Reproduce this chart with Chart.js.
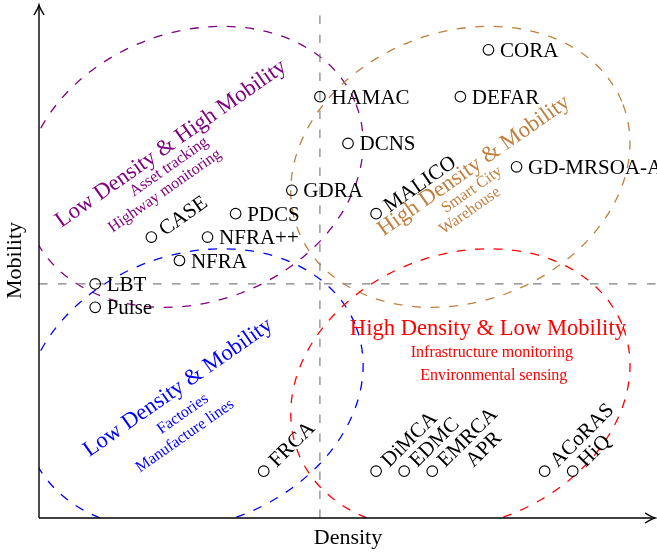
<!DOCTYPE html>
<html><head><meta charset="utf-8">
<script src="https://cdn.jsdelivr.net/npm/chart.js@4.4.0/dist/chart.umd.min.js"></script>
<style>html,body{margin:0;padding:0;background:#fff;overflow:hidden}canvas{display:block}</style>
</head><body>
<canvas id="c" width="657" height="552"></canvas>
<script>
// ---------------- data ----------------
const names    = ['CORA','HAMAC','DEFAR','DCNS','GD-MRSOA-A','GDRA','MALICO','PDCS','CASE','NFRA++','NFRA','LBT','Pulse','FRCA','DiMCA','EDMC','EMRCA','APR','ACoRAS','HiQ'];
const density  = [16, 10, 15, 11, 17,  9, 12,  7,  4,  6,  5,  2,  2,  8, 12, 13, 14, 15, 18, 19];
const mobility = [20, 18, 18, 16, 15, 14, 13, 13, 12, 12, 11, 10,  9,  2,  2,  2,  2,  2,  2,  2];
const densityDivider = 10;
const mobilityDivider = 10;
const regionTitles = ['Low Density & High Mobility', 'High Density & Mobility', 'Low Density & Mobility', 'High Density & Low Mobility'];
const regionUses = [['Asset tracking', 'Highway monitoring'], ['Smart City', 'Warehouse'], ['Factories', 'Manufacture lines'], ['Infrastructure monitoring', 'Environmental sensing']];
const regionDensity  = [5.5, 15, 5.5, 15];
const regionMobility = [15, 15, 5.5, 5.5];

// ---------------- styles / layout ----------------
const SERIF = '"Liberation Serif", "Times New Roman", serif';
const regionColors = ['#800080', '#BF8040', '#0000FF', '#FF0000'];
const labelAngle = {CASE: 35, MALICO: 35, FRCA: 45, DiMCA: 45, EDMC: 45, EMRCA: 45, APR: 45, ACoRAS: 45, HiQ: 45};
const noMarker = new Set(['APR']);
const ellipseStyle = {a: 6.2, b: 4.8, rot: 21};   // radii in x-units, rotation deg
const regionText = [
  {angle: 35, pos: [[4.70, 15.98], [4.63, 15.0], [4.48, 13.97]]},
  {angle: 35, pos: [[15.48, 15.04], [15.41, 14.02], [15.34, 13.12]]},
  {angle: 35, pos: [[4.95, 5.56], [5.12, 4.44], [5.20, 3.50]]},
  {angle: 0,  pos: [[15.98, 8.08], [16.12, 7.05], [16.19, 6.07]]}
];

function arrowHead(ctx, x, y, ang) {
  ctx.save();
  ctx.translate(x, y);
  ctx.rotate(ang);
  ctx.beginPath();
  ctx.moveTo(-10, -5);
  ctx.quadraticCurveTo(-3, -0.8, 0, 0);
  ctx.quadraticCurveTo(-3, 0.8, -10, 5);
  ctx.lineWidth = 1.4;
  ctx.strokeStyle = '#000';
  ctx.stroke();
  ctx.restore();
}

const backPlugin = {
  id: 'back',
  beforeDatasetsDraw(chart) {
    const {ctx, chartArea: ca, scales: {x, y}} = chart;
    const ux = Math.abs(x.getPixelForValue(1) - x.getPixelForValue(0));
    // ellipses
    ctx.save();
    ctx.beginPath();
    ctx.rect(ca.left, ca.top, ca.right - ca.left, ca.bottom - ca.top);
    ctx.clip();
    regionTitles.forEach((t, i) => {
      ctx.beginPath();
      ctx.ellipse(x.getPixelForValue(regionDensity[i]), y.getPixelForValue(regionMobility[i]),
        ellipseStyle.a * ux, ellipseStyle.b * ux, -ellipseStyle.rot * Math.PI / 180, 0, Math.PI * 2);
      ctx.setLineDash([9, 9.5]);
      ctx.lineWidth = 1.3;
      ctx.strokeStyle = regionColors[i];
      ctx.stroke();
    });
    // dividers
    ctx.strokeStyle = '#808080';
    ctx.lineWidth = 1.2;
    ctx.setLineDash([8.5, 10.5]);
    ctx.beginPath();
    ctx.moveTo(x.getPixelForValue(densityDivider), y.getPixelForValue(0));
    ctx.lineTo(x.getPixelForValue(densityDivider), y.getPixelForValue(21.5));
    ctx.stroke();
    ctx.beginPath();
    ctx.moveTo(x.getPixelForValue(0), y.getPixelForValue(mobilityDivider));
    ctx.lineTo(x.getPixelForValue(22), y.getPixelForValue(mobilityDivider));
    ctx.stroke();
    ctx.restore();

    // region texts
    ctx.save();
    regionTitles.forEach((t, i) => {
      const rt = regionText[i];
      const lines = [t].concat(regionUses[i]);
      lines.forEach((s, k) => {
        ctx.save();
        ctx.translate(x.getPixelForValue(rt.pos[k][0]), y.getPixelForValue(rt.pos[k][1]));
        ctx.rotate(-rt.angle * Math.PI / 180);
        ctx.fillStyle = regionColors[i];
        ctx.font = (k === 0 ? 22.6 : 16) + 'px ' + SERIF;
        ctx.textAlign = 'center';
        ctx.textBaseline = 'middle';
        ctx.fillText(s, 0, 0);
        ctx.restore();
      });
    });
    ctx.restore();

    // axes
    ctx.save();
    ctx.strokeStyle = '#000';
    ctx.lineWidth = 1.4;
    ctx.beginPath();
    ctx.moveTo(ca.left, ca.bottom);
    ctx.lineTo(ca.right - 2, ca.bottom);
    ctx.moveTo(ca.left, ca.bottom);
    ctx.lineTo(ca.left, ca.top + 2);
    ctx.stroke();
    arrowHead(ctx, ca.right - 2, ca.bottom, 0);
    arrowHead(ctx, ca.left, ca.top + 2, -Math.PI / 2);
    ctx.restore();
  },
  afterDatasetsDraw(chart) {
    const {ctx} = chart;
    const meta = chart.getDatasetMeta(0);
    ctx.save();
    ctx.fillStyle = '#000';
    ctx.font = '21px ' + SERIF;
    ctx.textAlign = 'left';
    ctx.textBaseline = 'alphabetic';
    meta.data.forEach((pt, i) => {
      const ang = labelAngle[names[i]] || 0;
      ctx.save();
      ctx.translate(pt.x, pt.y);
      ctx.rotate(-ang * Math.PI / 180);
      ctx.fillText(names[i], 11.5, 7);
      ctx.restore();
    });
    ctx.restore();
  }
};

function build() {
  new Chart(document.getElementById('c'), {
    type: 'scatter',
    data: {
      datasets: [{
        data: names.map((n, i) => ({x: density[i], y: mobility[i]})),
        pointRadius: c => noMarker.has(names[c.dataIndex]) ? 0 : 5.3,
        pointHoverRadius: c => noMarker.has(names[c.dataIndex]) ? 0 : 5.3,
        pointBorderColor: '#000',
        pointBackgroundColor: 'rgba(0,0,0,0)',
        pointBorderWidth: 1.1,
        clip: false
      }]
    },
    options: {
      responsive: false,
      animation: false,
      events: [],
      layout: {autoPadding: false, padding: {top: 3, right: 0, left: 0, bottom: 0}},
      scales: {
        x: {
          type: 'linear', min: 0, max: 22,
          ticks: {display: false}, grid: {display: false, drawTicks: false}, border: {display: false},
          title: {display: true, text: 'Density', color: '#000', font: {family: SERIF, size: 22}, padding: {top: 6.8, bottom: 0.8}}
        },
        y: {
          type: 'linear', min: 0, max: 22,
          ticks: {display: false}, grid: {display: false, drawTicks: false}, border: {display: false},
          title: {display: true, text: 'Mobility', color: '#000', font: {family: SERIF, size: 22}, padding: {top: 1.8, bottom: 10.8}}
        }
      },
      plugins: {legend: {display: false}, tooltip: {enabled: false}}
    },
    plugins: [backPlugin]
  });
}
if (document.fonts && document.fonts.load) {
  Promise.all([document.fonts.load('22px "Liberation Serif"'), document.fonts.load('16px "Liberation Serif"')]).then(build, build);
} else { build(); }
</script>
</body></html>
